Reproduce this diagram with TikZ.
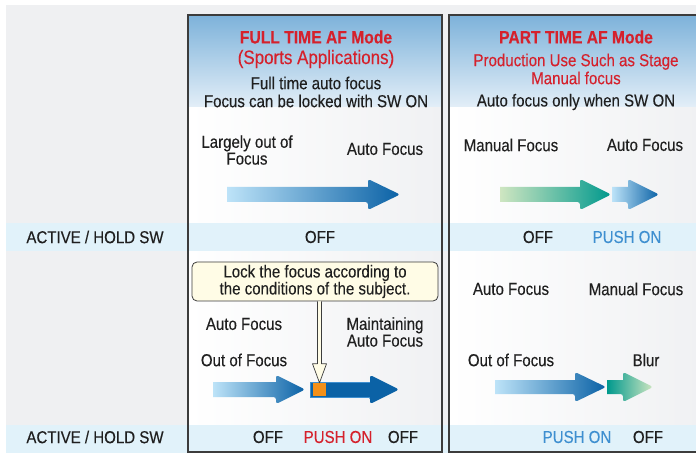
\documentclass[tikz,border=0pt]{standalone}
\usepackage{fontspec}
\setmainfont{Liberation Sans}[FakeStretch=0.87, FakeBold=0.25]
\usetikzlibrary{calc}

\definecolor{bggray}{HTML}{EFF0F2}
\definecolor{bandblue}{HTML}{E1F2FA}
\definecolor{headtop}{HTML}{7DB2DA}
\definecolor{headbot}{HTML}{E4EFF8}
\definecolor{bodyright}{HTML}{F0F1F3}
\definecolor{framegray}{HTML}{3C3C3C}
\definecolor{txtgray}{HTML}{1F1F1F}
\definecolor{afred}{HTML}{D5212C}
\definecolor{pushblue}{HTML}{3E8FD0}
\definecolor{arrlight}{HTML}{BDE3F8}
\definecolor{arrdark}{HTML}{0B62A6}
\definecolor{grnlight}{HTML}{CFE6C1}
\definecolor{tealmid}{HTML}{00998D}
\definecolor{notefill}{HTML}{FFFCE6}
\definecolor{lockorange}{HTML}{F39019}

\tikzset{
  lbl/.style={inner sep=0pt, align=center, text=txtgray, font=\fontsize{17.3}{16.8}\selectfont},
  ttl/.style={lbl, text=afred, font=\fontsize{18}{18}\selectfont\bfseries},
  sub/.style={lbl, text=afred, font=\fontsize{17.3}{18}\selectfont},
  frame/.style={draw=framegray, line width=1.3pt},
  band/.style={fill=bandblue},
  bluearrow/.style={left color=arrlight, right color=arrdark},
  greenarrow/.style={left color=grnlight, right color=tealmid},
  tealarrow/.style={left color=tealmid, right color=grnlight},
  hollow/.style={draw=framegray, fill=notefill, line width=0.7pt, line join=round}
}

\begin{document}
\begin{tikzpicture}[x=1pt,y=-1pt]

  \useasboundingbox (0,0) rectangle (696,454);
  \clip (0,0) rectangle (696,454);
  \fill[bggray] (6,5) rectangle (696,453);

  \shade[top color=headtop, bottom color=headbot] (188,15) rectangle (442,108);
  \shade[top color=headtop, bottom color=headbot] (449,15) rectangle (700,108);
  \shade[left color=white, right color=bodyright] (188,108) rectangle (442,452);
  \shade[left color=white, right color=bodyright] (449,108) rectangle (700,452);

  \fill[band] (6,223) rectangle (696,251);
  \fill[band] (6,425) rectangle (696,453);

  \draw[frame] (188,15) rectangle (442,452);
  \draw[frame] (449,15) rectangle (700,452);

  \node[ttl] (fullttl) at (316,37) {FULL TIME AF Mode};
  \node[sub, font=\fontsize{19.5}{18}\selectfont] (fullsub) at (316,59) {(Sports Applications)};
  \node[lbl, font=\fontsize{17.3}{18}\selectfont] (fulldesc) at (316,92) {Full time auto focus\\Focus can be locked with SW ON};
  \node[ttl] (partttl) at (576,37) {PART TIME AF Mode};
  \node[sub] (partsub) at (576,69) {Production Use Such as Stage\\Manual focus};
  \node[lbl] (partdesc) at (576,102) {Auto focus only when SW ON};

  \node[lbl] (largely) at (247,150) {Largely out of\\Focus};
  \node[lbl] (fullaf) at (385,149) {Auto Focus};
  \node[lbl] (partmf) at (511,145) {Manual Focus};
  \node[lbl] (partaf) at (645,145) {Auto Focus};

  \shade[bluearrow] (227,187) -- (368,187) [rounded corners=2.5pt] -- (368,179) -- (400,194.5) -- (368,210) -- (368,202) [sharp corners] -- (227,202) -- cycle;
  \shade[greenarrow] (500,187) -- (580,187) [rounded corners=2.5pt] -- (580,179) -- (611,194.5) -- (580,210) -- (580,202) [sharp corners] -- (500,202) -- cycle;
  \shade[bluearrow] (612,187) -- (628,187) [rounded corners=2.5pt] -- (628,179) -- (659,194.5) -- (628,210) -- (628,202) [sharp corners] -- (612,202) -- cycle;

  \node[lbl] (sw1) at (95,237) {ACTIVE / HOLD SW};
  \node[lbl] (fulloff1) at (320,237) {OFF};
  \node[lbl] (partoff1) at (538,237) {OFF};
  \node[lbl, text=pushblue] (partpush1) at (627,237) {PUSH ON};

  \node[lbl, font=\fontsize{17.3}{17}\selectfont, draw=framegray, fill=notefill, rounded corners=5pt, line width=0.8pt, minimum width=246pt, minimum height=39pt] (lock) at (315,281.5) {Lock the focus according to\\the conditions of the subject.};
  \node[lbl] (holdaf) at (244,324) {Auto Focus};
  \node[lbl] (holdout) at (244,360) {Out of Focus};
  \node[lbl] (holdkeep) at (385,332) {Maintaining\\Auto Focus};
  \node[lbl] (p2af) at (511,289) {Auto Focus};
  \node[lbl] (p2mf) at (636,289) {Manual Focus};
  \node[lbl] (p2out) at (511,360) {Out of Focus};
  \node[lbl] (p2blur) at (646,360) {Blur};

  \shade[bluearrow] (213,382) -- (276,382) [rounded corners=2.5pt] -- (276,375) -- (305,389.5) -- (276,404) -- (276,397) [sharp corners] -- (213,397) -- cycle;
  \fill[arrdark] (310,382) -- (370,382) [rounded corners=2.5pt] -- (370,375) -- (399,389.5) -- (370,404) -- (370,397) [sharp corners] -- (310,397) -- cycle;
  \draw[pushblue, line width=0.8pt] (370,382) -- (310,382) -- (310,397) -- (370,397);
  \node[fill=lockorange, minimum size=13pt, inner sep=0pt] (sq) at (319.5,389.5) {};
  \draw[hollow] ($(lock.south -| sq.north)+(-2,0)$) -- ($(sq.north)+(-2,-19)$) -- ($(sq.north)+(-7,-19)$) -- (sq.north) -- ($(sq.north)+(7,-19)$) -- ($(sq.north)+(2,-19)$) -- ($(lock.south -| sq.north)+(2,0)$);

  \shade[bluearrow] (495,380) -- (575,380) [rounded corners=2.5pt] -- (575,372) -- (606,387) -- (575,402) -- (575,394) [sharp corners] -- (495,394) -- cycle;
  \shade[tealarrow] (607,380) -- (623,380) [rounded corners=2.5pt] -- (623,372) -- (653,387) -- (623,402) -- (623,394) [sharp corners] -- (607,394) -- cycle;

  \node[lbl] (sw2) at (95,437) {ACTIVE / HOLD SW};
  \node[lbl] (fulloff2) at (268,437) {OFF};
  \node[lbl, text=afred] (fullpush2) at (338,437) {PUSH ON};
  \node[lbl] (fulloff3) at (403,437) {OFF};
  \node[lbl, text=pushblue] (partpush2) at (577,437) {PUSH ON};
  \node[lbl] (partoff2) at (648,437) {OFF};

\end{tikzpicture}
\end{document}
